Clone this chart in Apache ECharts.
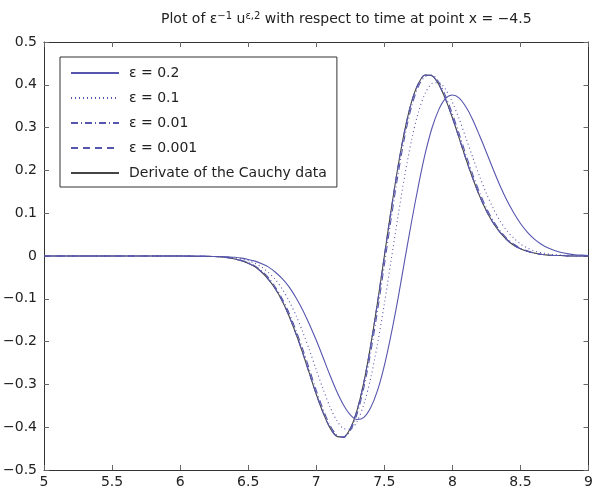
<!DOCTYPE html>
<html>
<head>
<meta charset="utf-8">
<script src="https://cdn.jsdelivr.net/npm/echarts@6/dist/echarts.min.js"></script>
<style>html,body{margin:0;padding:0;background:#fff}#c{width:596px;height:493px}</style>
</head>
<body>
<div id="c"></div>
<script>
var times = [5.0, 5.5, 6.0,
  6.20, 6.25, 6.30, 6.35, 6.40, 6.45, 6.50, 6.55, 6.60, 6.65,
  6.70, 6.75, 6.80, 6.85, 6.90, 6.95, 7.00, 7.05, 7.10, 7.15,
  7.20, 7.25, 7.30, 7.35, 7.40, 7.45, 7.50, 7.55, 7.60, 7.65,
  7.70, 7.75, 7.80, 7.85, 7.90, 7.95, 8.00, 8.05, 8.10, 8.15,
  8.20, 8.25, 8.30, 8.35, 8.40, 8.45, 8.50, 8.55, 8.60, 8.65,
  8.70, 8.75, 8.80, 8.85, 8.90, 8.95, 9.00];

var eps02 = [0, 0, 0,
  0.000, -0.001, -0.001, -0.002, -0.003, -0.005, -0.008, -0.012, -0.018, -0.026,
  -0.038, -0.053, -0.072, -0.097, -0.126, -0.160, -0.197, -0.237, -0.278, -0.316,
  -0.348, -0.371, -0.382, -0.377, -0.354, -0.314, -0.256, -0.183, -0.100, -0.009,
  0.080, 0.164, 0.239, 0.299, 0.342, 0.368, 0.376, 0.369, 0.348, 0.318,
  0.281, 0.242, 0.202, 0.164, 0.130, 0.101, 0.076, 0.056, 0.040, 0.028,
  0.019, 0.013, 0.008, 0.005, 0.003, 0.002, 0.001];

var eps01 = [0, 0, 0,
  -0.001, -0.001, -0.002, -0.003, -0.004, -0.007, -0.011, -0.017, -0.026, -0.039,
  -0.055, -0.077, -0.105, -0.138, -0.177, -0.220, -0.266, -0.311, -0.352, -0.384,
  -0.403, -0.405, -0.386, -0.346, -0.285, -0.205, -0.112, -0.010, 0.092, 0.188,
  0.271, 0.336, 0.380, 0.403, 0.405, 0.389, 0.359, 0.320, 0.275, 0.230,
  0.186, 0.146, 0.111, 0.082, 0.059, 0.042, 0.028, 0.019, 0.012, 0.008,
  0.005, 0.003, 0.002, 0.001, 0.001, 0.000, 0.000];

var eps001 = [0, 0, 0,
  -0.001, -0.001, -0.002, -0.003, -0.006, -0.010, -0.015, -0.023, -0.035, -0.051,
  -0.073, -0.100, -0.133, -0.173, -0.217, -0.265, -0.314, -0.358, -0.395, -0.418,
  -0.424, -0.408, -0.369, -0.307, -0.225, -0.128, -0.021, 0.087, 0.189, 0.279,
  0.349, 0.396, 0.420, 0.423, 0.406, 0.374, 0.332, 0.285, 0.236, 0.190,
  0.148, 0.112, 0.082, 0.059, 0.041, 0.028, 0.018, 0.012, 0.007, 0.004,
  0.003, 0.001, 0.001, 0.000, 0.000, 0.000, 0.000];

var eps0001 = [0, 0, 0,
  -0.001, -0.001, -0.002, -0.004, -0.007, -0.011, -0.017, -0.025, -0.038, -0.055,
  -0.077, -0.105, -0.140, -0.181, -0.226, -0.275, -0.323, -0.366, -0.401, -0.421,
  -0.423, -0.403, -0.360, -0.294, -0.208, -0.108, 0.000, 0.108, 0.208, 0.294,
  0.360, 0.403, 0.423, 0.421, 0.401, 0.366, 0.323, 0.275, 0.226, 0.181,
  0.140, 0.105, 0.077, 0.055, 0.038, 0.025, 0.017, 0.011, 0.007, 0.004,
  0.002, 0.001, 0.001, 0.000, 0.000, 0.000, 0.000];

var cauchy = [0, 0, 0,
  -0.001, -0.001, -0.002, -0.004, -0.007, -0.011, -0.017, -0.025, -0.038, -0.055,
  -0.077, -0.105, -0.140, -0.181, -0.226, -0.275, -0.323, -0.366, -0.401, -0.421,
  -0.423, -0.403, -0.360, -0.294, -0.208, -0.108, 0.000, 0.108, 0.208, 0.294,
  0.360, 0.403, 0.423, 0.421, 0.401, 0.366, 0.323, 0.275, 0.226, 0.181,
  0.140, 0.105, 0.077, 0.055, 0.038, 0.025, 0.017, 0.011, 0.007, 0.004,
  0.002, 0.001, 0.001, 0.000, 0.000, 0.000, 0.000];

var seriesNames = ['ε = 0.2', 'ε = 0.1', 'ε = 0.01', 'ε = 0.001', 'Derivate of the Cauchy data'];
var xTicks = {min: 5, max: 9, interval: 0.5};
var yTicks = {min: -0.5, max: 0.5, interval: 0.1};

function pairs(vals) { return times.map(function (t, i) { return [t, vals[i]]; }); }

var blue = '#5656ae';
var dark = '#444444';
var font = '"DejaVu Sans", Verdana, sans-serif';

function mk(name, vals, color, type, z) {
  return {
    name: name, type: 'line', data: pairs(vals), showSymbol: false, symbol: 'none',
    smooth: 0.3, xAxisIndex: 0, yAxisIndex: 0, z: z, animation: false,
    lineStyle: {color: color, width: 1.1, type: type},
    itemStyle: {color: color}
  };
}

function fmtY(v) {
  var r = Math.round(v * 10) / 10;
  if (r === 0) return '0';
  return String(r).replace('-', '\u2212');
}

var chart = echarts.init(document.getElementById('c'), null, {renderer: 'canvas'});
var axisLine = {show: true, onZero: false, lineStyle: {color: '#333', width: 1}};
var tick = {show: true, inside: true, length: 5, lineStyle: {color: '#666'}};
chart.setOption({
  animation: false,
  backgroundColor: '#fff',
  title: {
    text: 'Plot of ε{sup|−1} u{sup|ε,2} with respect to time at point x = −4.5',
    left: 156, top: 6,
    textStyle: {
      fontFamily: font, fontSize: 14, fontWeight: 'normal', color: '#222',
      rich: {sup: {fontSize: 10, verticalAlign: 'top', padding: [0, 0, 7, 0], fontFamily: font, color: '#222'}}
    }
  },
  grid: {left: 44, right: 5, top: 42, bottom: 23, containLabel: false},
  legend: {
    orient: 'vertical', left: 60, top: 57,
    data: seriesNames,
    itemWidth: 48, itemHeight: 14, itemGap: 11,
    padding: [9, 10, 7, 10],
    borderColor: '#333', borderWidth: 1, backgroundColor: '#fff',
    itemStyle: {opacity: 0},
    textStyle: {fontFamily: font, fontSize: 14, color: '#222', padding: [0, 0, 0, 5]}
  },
  xAxis: [
    {type: 'value', min: xTicks.min, max: xTicks.max, interval: xTicks.interval, position: 'bottom',
     axisLine: axisLine, axisTick: tick, splitLine: {show: false},
     axisLabel: {fontFamily: font, fontSize: 14, color: '#222', margin: 5}},
    {type: 'value', min: xTicks.min, max: xTicks.max, interval: xTicks.interval, position: 'top',
     axisLine: axisLine, axisTick: tick, splitLine: {show: false}, axisLabel: {show: false}}
  ],
  yAxis: [
    {type: 'value', min: yTicks.min, max: yTicks.max, interval: yTicks.interval, position: 'left',
     axisLine: axisLine, axisTick: tick, splitLine: {show: false},
     axisLabel: {fontFamily: font, fontSize: 14, color: '#222', margin: 7, formatter: fmtY}},
    {type: 'value', min: yTicks.min, max: yTicks.max, interval: yTicks.interval, position: 'right',
     axisLine: axisLine, axisTick: tick, splitLine: {show: false}, axisLabel: {show: false}}
  ],
  series: [
    mk(seriesNames[0], eps02, blue, 'solid', 3),
    mk(seriesNames[1], eps01, blue, [1, 3], 3),
    mk(seriesNames[2], eps001, blue, [7, 3, 1, 3], 3),
    mk(seriesNames[3], eps0001, blue, [7, 5], 3),
    mk(seriesNames[4], cauchy, dark, 'solid', 2)
  ]
});
</script>
</body>
</html>
